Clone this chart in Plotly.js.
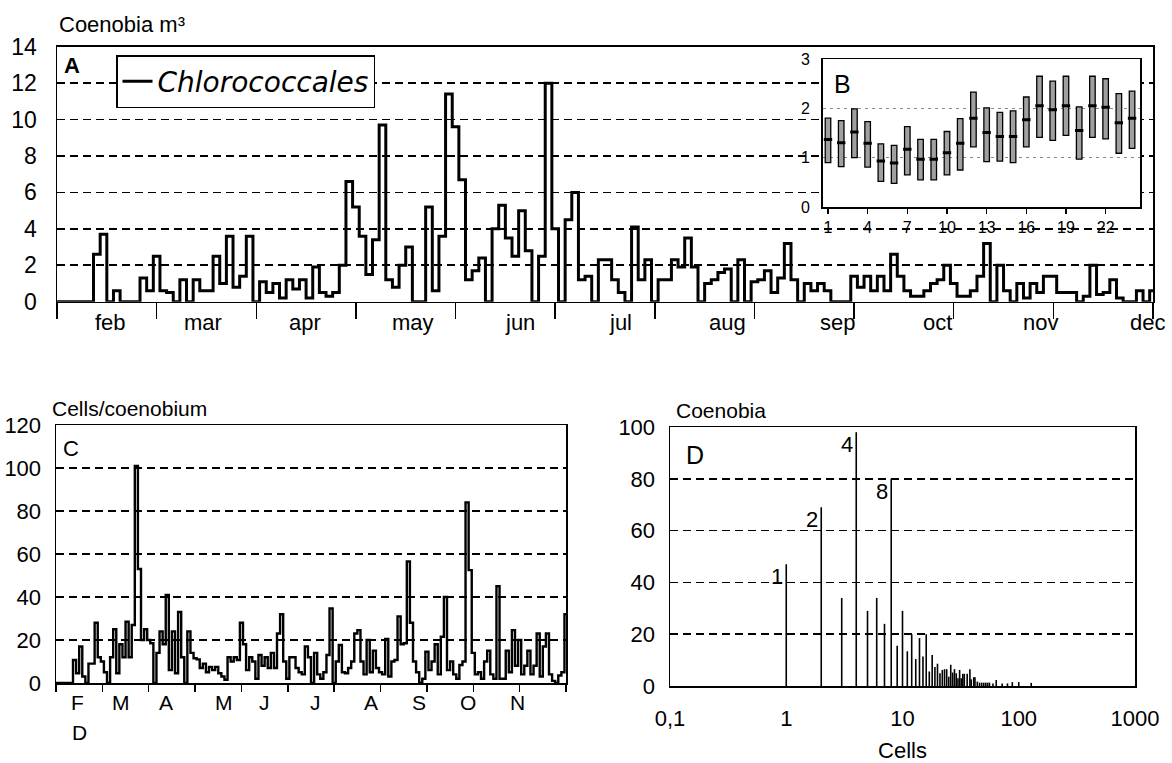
<!DOCTYPE html>
<html><head><meta charset="utf-8">
<script src="https://cdn.plot.ly/plotly-3.0.1.min.js"></script>
<style>html,body{margin:0;padding:0;background:#fff}</style>
</head><body><div id="chart" style="width:1172px;height:763px"></div>
<script>
// ---------------- DATA ----------------
// Panel A: coenobia per m3, one value every 2 days from Feb 1 (months drawn as 30-day blocks)
const stepA = 2;
const coenobiaA = [
 0,0,0,0,0,0,2.6,3.7,0,0.6,0,0,0,1.3,0.6,2.5,0.6,0.5,0,1.2,
 0,1.2,0.6,0.6,2.5,1.0,3.6,0.8,1.4,3.6,0,1.1,0.5,1.0,0.2,1.2,0.7,1.2,0.2,1.9,
 0.5,0.3,0.5,2.0,6.6,5.2,3.6,1.5,3.4,9.7,1.2,0.8,2.0,3.0,0,0,5.2,0.6,3.6,11.4,
 9.6,6.7,1.2,1.7,2.4,0,4.0,5.3,3.5,2.5,5.0,2.8,0,2.5,12.0,4.0,0,4.5,6.0,1.2,
 1.4,0,2.3,2.3,1.2,0.5,0,4.1,1.2,2.3,0,1.2,1.2,2.3,1.9,3.5,1.9,0,1.0,1.2,
 1.6,1.8,0,2.3,0,1.1,1.2,1.7,0.5,1.3,3.2,1.2,0,1.0,0.6,1.0,0.6,0,0,0,
 1.4,0.8,1.4,0.6,1.4,0.6,2.6,1.4,0.6,0.3,0.3,0.6,1.0,1.2,2.0,1.0,0.3,0.3,0.6,1.4,
 3.2,0,2.0,0.6,0,1.0,0.2,1.0,0.5,1.4,1.4,0.5,0.5,0.5,0,0.3,2.0,0.4,0.5,1.2,
 0.2,0,0,0.6,0,0.6
];
const monthsA = ['feb','mar','apr','may','jun','jul','aug','sep','oct','nov','dec'];

// Panel B: sampling number, low / high of range, mean
const sampleB = [1,2,3,4,5,6,7,8,9,10,11,12,13,14,15,16,17,18,19,20,21,22,23,24];
const lowB  = [0.9,0.82,1.0,0.81,0.52,0.48,0.65,0.55,0.55,0.65,0.75,1.22,0.92,0.93,0.9,1.22,1.41,1.35,1.45,0.97,1.41,1.38,1.09,1.19];
const highB = [1.8,1.75,1.99,1.73,1.28,1.25,1.63,1.37,1.37,1.53,1.79,2.33,2.01,1.92,1.95,2.23,2.65,2.55,2.65,2.03,2.65,2.6,2.3,2.35];
const meanB = [1.37,1.3,1.52,1.29,0.93,0.89,1.17,0.97,0.97,1.1,1.29,1.8,1.51,1.43,1.43,1.77,2.05,1.97,2.05,1.55,2.05,2.02,1.71,1.8];
const tickB = [1,4,7,10,13,16,19,22];

// Panel C: cells per coenobium, one value every 2 days
const stepC = 2;
const cellsC = [
 0,0,0,0,0,0,10.7,4.5,17,3,0,9,9,28,12,10,5,0,12,25,
 4.5,18,12,28.5,12,27,101,53,20,25,20,18.5,0,14,24,18,41,6,24,4.5,
 33,12,0,24,14,11.5,11,7,9,5,7.5,6,7.5,4.5,3,1.5,12,10,12,10.7,
 28,18,6,12,10,2,13,8,12,7,14,
 7,23,32,10,2,12,12,7,5,4,17,12,0,14,4,2,5,13,34.7,0,
 10,17.7,5,4.5,7,10,23,24.6,10,4,20,5,15,7,5,4,20.5,3,10,10.7,
 31,18,18.5,56.5,28,10,5,0,2,14.5,6,10,18,4,21.5,40,6,10,4,2,
 8.4,10,84,52.5,14,4,5,2,10,15,4,2,45,2,2,15,5,24.6,8,20,
 4,8,15,4,8,23,3,17,23,4,1,0,3.5,5,32
];
const monthsC = ['F','M','A','M','J','J','A','S','O','N'];
const extraMonthC = 'D';

// Panel D: number of cells per coenobium vs number of coenobia
const cellsD  = [1,2,3,4,5,6,7,8,9,10,11,12,13,14,15,16,17,18,19,20,21,22,23,24,25,26,27,28,29,30,31,32,33,34,36,38,39,41,42,44,46,48,50,52,54,56,60,64,72,80,88,100,128];
const countsD = [47,69,34,98,29,34,24,80,15.5,29,13.4,20,10.4,18.5,11.4,20,5.6,12,7.3,8.6,4.9,6.2,6.5,6.5,3.6,8.2,5.2,6.5,4.9,3,6.2,3,4.7,4.7,4.7,6.5,2.6,3.4,3.4,1.7,1.3,1.3,1.3,1.3,1.3,1.3,1,2.3,1,1,1.5,1.5,1.2];
const labelledD = [1,2,4,8];
const tickValsD = [0.1,1,10,100,1000];
const tickTextD = ['0,1','1','10','100','1000'];

// ---------------- LAYOUT HELPERS ----------------
const W = 1172, H = 763;
const px = x => x / W;
const py = y => 1 - y / H;
const FONT = 'Liberation Sans, Arial, Helvetica, sans-serif';
const DAYS_PER_MONTH = 30;
const monthEdges = n => Array.from({length: n + 1}, (_, i) => i * DAYS_PER_MONTH);

const daysA = coenobiaA.map((_, i) => i * stepA);
const daysC = cellsC.map((_, i) => i * stepC);

// D: vertical line per class
const segX = [], segY = [];
cellsD.forEach((c, i) => { segX.push(c, c, null); segY.push(0, countsD[i], null); });

const traces = [
  { type:'scatter', mode:'lines', x: daysA, y: coenobiaA, name:'Chlorococcales',
    line:{color:'black', width:3, shape:'hvh'}, xaxis:'x', yaxis:'y', showlegend:true },
  { type:'bar', x: sampleB, base: lowB, y: highB.map((h, i) => h - lowB[i]), width:0.42,
    marker:{color:'#a0a0a0', line:{color:'black', width:1.3}}, xaxis:'x2', yaxis:'y2', showlegend:false },
  { type:'scatter', mode:'markers', x: sampleB, y: meanB,
    marker:{symbol:'line-ew', size:6, color:'black', line:{width:3, color:'black'}},
    xaxis:'x2', yaxis:'y2', showlegend:false },
  { type:'scatter', mode:'lines', x: daysC, y: cellsC,
    line:{color:'black', width:2.4, shape:'hvh'}, xaxis:'x3', yaxis:'y3', showlegend:false },
  { type:'scatter', mode:'lines', x: segX, y: segY, connectgaps:false,
    line:{color:'black', width:1.6}, xaxis:'x4', yaxis:'y4', showlegend:false }
];

const dashGrid = {showgrid:true, gridcolor:'black', gridwidth:1.8, griddash:'8px,5px'};
const boxLine = {showline:true, mirror:true, linecolor:'black', linewidth:1.5, zeroline:false, fixedrange:true};

const anns = [];
const addText = (text, x, y, size, opts={}) => anns.push(Object.assign({
  text, x: px(x), y: py(y), xref:'paper', yref:'paper', showarrow:false,
  xanchor:'left', yanchor:'middle', font:{family:FONT, size, color:'black'}
}, opts));

addText('Coenobia m³', 57, 24, 22);
addText('<b>A</b>', 62, 65, 22);
addText('B', 832, 84, 25);
addText('Cells/coenobium', 50, 408, 21);
addText('C', 61, 448, 22);
addText('Coenobia', 674, 410, 21);
addText('D', 684, 455, 25);

const monthLabelPxA = [110,203,305,413,520,620,727,837,937,1040,1147];
monthsA.forEach((m, i) => addText(m, monthLabelPxA[i], 322, 22, {xanchor:'center'}));
const monthLabelPxC = [77,121,166,224,264,315,371,419,468,517];
monthsC.forEach((m, i) => addText(m, monthLabelPxC[i], 702, 21, {xanchor:'center'}));
addText(extraMonthC, 79, 732, 21, {xanchor:'center'});

labelledD.forEach(c => {
  const k = cellsD.indexOf(c);
  anns.push({text: String(c), x: Math.log10(c), y: countsD[k], xref:'x4', yref:'y4',
    showarrow:false, xanchor:'right', yanchor:'top', xshift:-1, yshift:2,
    font:{family:FONT, size:22, color:'black'}});
});

const layout = {
  width: W, height: H, margin:{l:0, r:0, t:0, b:0},
  paper_bgcolor:'white', plot_bgcolor:'white',
  font:{family:FONT, color:'black'},
  hovermode:false,
  showlegend:true,
  legend:{x:px(116), y:py(55), xanchor:'left', yanchor:'top', bgcolor:'white',
          bordercolor:'black', borderwidth:1.5, itemwidth:30,
          font:{family:'DejaVu Sans, Liberation Sans, sans-serif', size:28, style:'italic', color:'black'}},
  xaxis: Object.assign({}, boxLine, {domain:[px(57), px(1153)], range:[0,330], anchor:'y',
    ticks:'outside', ticklen:16, tickwidth:1.5, tickcolor:'black', tickmode:'array',
    tickvals: monthEdges(11), showticklabels:false, showgrid:false}),
  yaxis: Object.assign({}, boxLine, dashGrid, {domain:[py(301.7), py(46.7)], range:[0,14], anchor:'x',
    tickmode:'array', tickvals:[0,2,4,6,8,10,12,14], ticks:'', ticklabelstandoff:14,
    tickfont:{family:FONT, size:23}}),
  xaxis2: Object.assign({}, boxLine, {domain:[px(822.7), px(1140)], range:[0.6,24.6], anchor:'y2',
    ticks:'outside', ticklen:5, tickwidth:1.2, tickcolor:'black', tickmode:'array', tickvals: tickB,
    tickfont:{family:FONT, size:16}, showgrid:false, ticklabelstandoff:0}),
  yaxis2: Object.assign({}, boxLine, {domain:[py(207), py(59)], range:[0,3], anchor:'x2',
    tickmode:'array', tickvals:[0,1,2,3], ticks:'', ticklabelstandoff:8,
    tickfont:{family:FONT, size:16}, showgrid:true, gridcolor:'#8a8a8a', gridwidth:1, griddash:'3px,4px'}),
  xaxis3: Object.assign({}, boxLine, {domain:[px(56), px(566)], range:[0,330], anchor:'y3',
    ticks:'outside', ticklen:7, tickwidth:1.5, tickcolor:'black', tickmode:'array',
    tickvals: monthEdges(11), showticklabels:false, showgrid:false}),
  yaxis3: Object.assign({}, boxLine, dashGrid, {domain:[py(683), py(425)], range:[0,120], anchor:'x3',
    tickmode:'array', tickvals:[0,20,40,60,80,100,120], ticks:'', ticklabelstandoff:9,
    tickfont:{family:FONT, size:22}}),
  xaxis4: Object.assign({}, boxLine, {type:'log', domain:[px(670), px(1135)], range:[-1,3], anchor:'y4',
    tickmode:'array', tickvals: tickValsD, ticktext: tickTextD, ticks:'', ticklabelstandoff:12,
    tickfont:{family:FONT, size:22}, showgrid:false,
    title:{text:'Cells', font:{family:FONT, size:22}, standoff:22}}),
  yaxis4: Object.assign({}, boxLine, dashGrid, {domain:[py(686), py(427)], range:[0,100], anchor:'x4',
    tickmode:'array', tickvals:[0,20,40,60,80,100], ticks:'', ticklabelstandoff:9,
    tickfont:{family:FONT, size:22}}),
  annotations: anns
};

Plotly.newPlot('chart', traces, layout, {displayModeBar:false, staticPlot:true});
</script>
</body></html>
